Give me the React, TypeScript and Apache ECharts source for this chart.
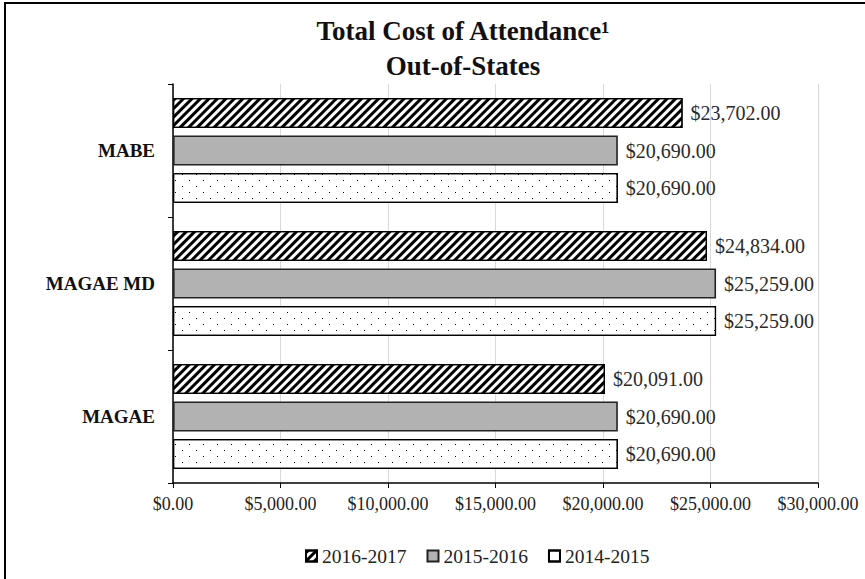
import React, { useEffect, useRef } from "react";
import * as echarts from "echarts";

const categories = ["MAGAE", "MAGAE MD", "MABE"];
const seriesNames = ["2016-2017", "2015-2016", "2014-2015"];
const values2016 = [20091, 24834, 23702];
const values2015 = [20690, 25259, 20690];
const values2014 = [20690, 25259, 20690];
const xTicks = [0, 5000, 10000, 15000, 20000, 25000, 30000];

const FONT = "'Liberation Serif', 'DejaVu Serif', serif";

const money = (v: number) =>
  "$" + v.toLocaleString("en-US", { minimumFractionDigits: 2, maximumFractionDigits: 2 });

export default function App() {
  const ref = useRef<HTMLDivElement>(null);
  useEffect(() => {
    if (!ref.current) return;
    const chart = echarts.init(ref.current, undefined, { renderer: "svg" });
    const label = {
      show: true,
      position: "right",
      distance: 8,
      formatter: (p: any) => money(p.value),
      fontFamily: FONT,
      fontSize: 20,
      color: "#2a2a2a",
    };
    const styles = [
      {
        color: "#ffffff",
        borderColor: "#000",
        borderWidth: 1.2,
        decal: {
          symbol: "rect",
          color: "#000",
          backgroundColor: "#fff",
          dashArrayX: [1, 0],
          dashArrayY: [3, 3],
          rotation: -Math.PI / 4,
        },
      },
      { color: "#b2b2b2", borderColor: "#222", borderWidth: 1.6 },
      {
        color: "#ffffff",
        borderColor: "#000",
        borderWidth: 1.2,
        decal: {
          symbol: "rect",
          symbolSize: 1,
          color: "#000",
          backgroundColor: "#fff",
          dashArrayX: [
            [1, 13],
            [0, 7, 1, 6],
          ],
          dashArrayY: [1, 5],
          rotation: 0,
        },
      },
    ];
    const data = [values2016, values2015, values2014];
    chart.setOption({
      animation: false,
      title: {
        text: "Total Cost of Attendance\u00B9\nOut-of-States",
        left: 458,
        textAlign: "center",
        top: 8,
        textStyle: {
          fontFamily: FONT,
          fontSize: 27,
          fontWeight: "bold",
          color: "#111",
          lineHeight: 35,
        },
      },
      legend: {
        data: seriesNames,
        top: 541,
        left: 300,
        itemWidth: 11,
        itemHeight: 11,
        itemGap: 20,
        icon: "rect",
        textStyle: { fontFamily: FONT, fontSize: 19.5, color: "#222" },
      },
      grid: { left: 173, right: 47, top: 84, bottom: 96 },
      xAxis: {
        type: "value",
        min: 0,
        max: 30000,
        interval: 5000,
        axisLine: { show: true, lineStyle: { color: "#000", width: 1.5 } },
        axisTick: { show: true, length: 5, lineStyle: { color: "#000" } },
        splitLine: { show: true, lineStyle: { color: "#d9d9d9", width: 1 } },
        axisLabel: {
          formatter: (v: number) => (xTicks.includes(v) ? money(v) : ""),
          fontFamily: FONT,
          fontSize: 18,
          color: "#222",
          margin: 12,
        },
      },
      yAxis: {
        type: "category",
        data: categories,
        axisLine: { show: true, lineStyle: { color: "#000", width: 1.5 } },
        axisTick: { show: true, length: 5, lineStyle: { color: "#000" } },
        axisLabel: {
          fontFamily: FONT,
          fontSize: 19,
          fontWeight: "bold",
          color: "#111",
          margin: 18,
        },
      },
      series: seriesNames.map((n, i) => ({
        name: n,
        type: "bar",
        data: data[i],
        barWidth: 30,
        barGap: "25%",
        itemStyle: styles[i],
        label,
      })),
      graphic: [
        {
          type: "rect",
          shape: { x: 5, y: 3, width: 880, height: 600 },
          style: { fill: "none", stroke: "#000", lineWidth: 2 },
          silent: true,
        },
      ],
    });
    return () => chart.dispose();
  }, []);
  return (
    <div
      ref={ref}
      style={{ position: "absolute", left: 0, top: 0, width: 865, height: 579, background: "#fff" }}
    />
  );
}
